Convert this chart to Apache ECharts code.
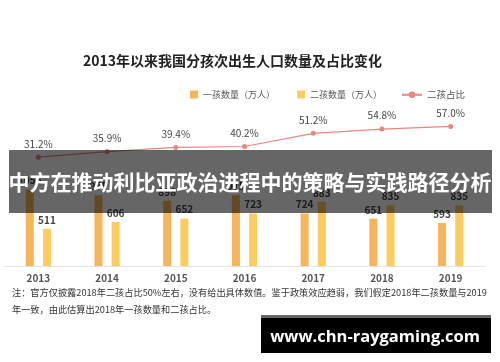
<!DOCTYPE html>
<html><head><meta charset="utf-8">
<script src="https://cdn.jsdelivr.net/npm/echarts@6/dist/echarts.min.js"></script>
<style>html,body{margin:0;padding:0;background:#fff}#c{width:500px;height:362px}</style>
</head><body><div id="c"></div>
<script>
const years = ['2013','2014','2015','2016','2017','2018','2019'];
const firstChild = [1056, 975, 898, 975, 724, 651, 593];
const secondChild = [511, 606, 652, 723, 883, 835, 835];
const secondShare = [31.2, 35.9, 39.4, 40.2, 51.2, 54.8, 57.0];
const noteLine1 = '注：官方仅披露2018年二孩占比50%左右，没有给出具体数值。鉴于政策效应趋弱，我们假定2018年二孩数量与2019';
const noteLine2 = '年一致，由此估算出2018年一孩数量和二孩占比。';
const bannerText = '中方在推动利比亚政治进程中的策略与实践路径分析';
const watermark = 'www.chn-raygaming.com';

const F = '"Noto Sans CJK SC", "Noto Sans", sans-serif';
const chart = echarts.init(document.getElementById('c'));
chart.setOption({
  animation: false,
  textStyle: {fontFamily: F},
  title: {
    text: '2013年以来我国分孩次出生人口数量及占比变化',
    left: 78, top: 49,
    textStyle: {fontSize: 14, fontWeight: 'bold', color: '#222', fontFamily: F}
  },
  legend: [
    {
      top: 85, left: 185, itemGap: 22, itemWidth: 8, itemHeight: 8,
      textStyle: {fontSize: 9, color: '#555', fontFamily: F},
      data: [
        {name: '一孩数量（万人）', icon: 'rect'},
        {name: '二孩数量（万人）', icon: 'rect'}
      ]
    },
    {
      top: 85, left: 396, itemWidth: 20, itemHeight: 8,
      textStyle: {fontSize: 9.5, color: '#555', fontFamily: F},
      data: [{name: '二孩占比'}]
    }
  ],
  grid: {left: 4, right: 15, top: 99, bottom: 96, containLabel: false},
  xAxis: {
    type: 'category', data: years,
    axisLine: {lineStyle: {color: '#e3e3e3'}},
    axisTick: {show: false},
    axisLabel: {color: '#555', fontSize: 10, fontWeight: 'bold', margin: 7, fontFamily: F}
  },
  yAxis: [
    {type: 'value', min: 0, max: 2300, show: false, splitLine: {show: false}},
    {type: 'value', min: -60, max: 80, show: false, splitLine: {show: false}}
  ],
  series: [
    {
      name: '一孩数量（万人）', type: 'bar', data: firstChild, barWidth: 8, barGap: '115%',
      itemStyle: {color: '#F7B55B'},
      label: {show: true, position: 'top', fontSize: 10, fontWeight: 'bold', color: '#444', distance: 4}
    },
    {
      name: '二孩数量（万人）', type: 'bar', data: secondChild, barWidth: 8,
      itemStyle: {color: '#FDCB5F'},
      label: {show: true, position: 'top', fontSize: 10, fontWeight: 'bold', color: '#444', distance: 4}
    },
    {
      name: '二孩占比', type: 'line', yAxisIndex: 1, data: secondShare,
      symbol: 'circle', symbolSize: 5,
      lineStyle: {color: '#E8877E', width: 1.2},
      itemStyle: {color: '#E8877E'},
      label: {show: true, position: 'top', distance: 6, fontSize: 10, color: '#444',
        formatter: p => p.value.toFixed(1) + '%'}
    }
  ],
  graphic: [
    {type: 'text', left: 12, top: 288, style: {text: noteLine1, fontSize: 9.2, fill: '#333', fontFamily: F}},
    {type: 'text', left: 12, top: 305, style: {text: noteLine2, fontSize: 9.2, fill: '#333', fontFamily: F}},
    {type: 'rect', shape: {x: 9, y: 150, width: 483, height: 63}, style: {fill: 'rgba(0,0,0,0.6)'}, z: 100},
    {type: 'text', x: 250, y: 182, z: 101, style: {text: bannerText, fontSize: 21, fontWeight: 'bold', fill: '#fff', align: 'center', verticalAlign: 'middle', fontFamily: F}},
    {type: 'rect', shape: {x: 261, y: 315, width: 230, height: 38}, style: {fill: '#000'}, z: 100},
    {type: 'rect', shape: {x: 261, y: 315, width: 230, height: 3}, style: {fill: '#666'}, z: 101},
    {type: 'text', x: 375, y: 337, z: 101, style: {text: watermark, fontSize: 16.5, fontWeight: 'bold', fill: '#fff', align: 'center', verticalAlign: 'middle', fontFamily: '"Open Sans", "DejaVu Sans", sans-serif'}}
  ]
});
</script></body></html>
